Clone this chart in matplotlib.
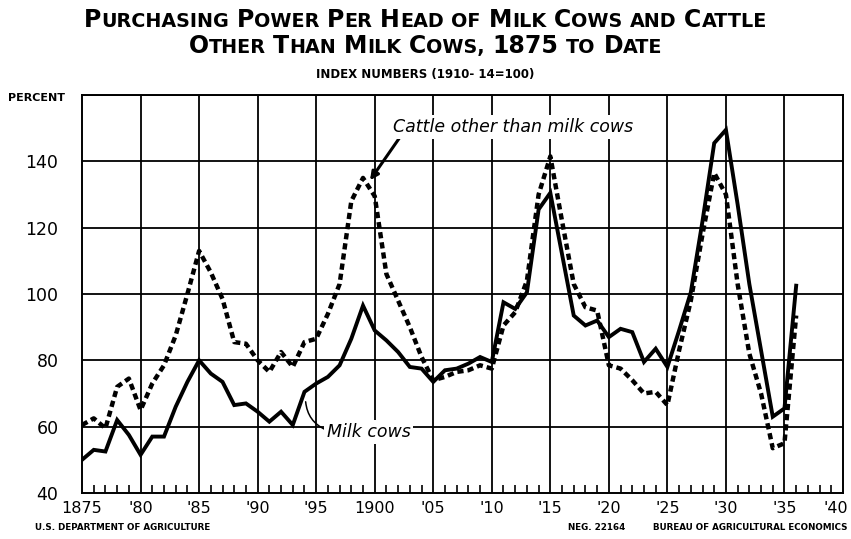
import numpy as np
import matplotlib
matplotlib.use("Agg")
import matplotlib.pyplot as plt
import matplotlib.transforms as mtransforms

# ------------------------------------------------------------
# datos (índices 1910-14 = 100)
# ------------------------------------------------------------
anios = list(range(1875, 1937))

vacas_lecheras = [
    50, 53, 52.5, 62, 57.5, 51.5, 57, 57, 66, 73.5,          # 1875-84
    80, 76, 73.5, 66.5, 67, 64.5, 61.5, 64.5, 60.5, 70.5,    # 1885-94
    73, 75, 78.5, 86.5, 96.5, 89, 86, 82.5, 78, 77.5,        # 1895-1904
    73.5, 77, 77.5, 79, 81, 79.5, 97.5, 95.5, 100.5, 125.5,  # 1905-14
    130.5, 112, 93.5, 90.5, 92, 87, 89.5, 88.5, 79.5, 83.5,  # 1915-24
    78, 89, 100.5, 122, 145.5, 149.5, 127, 103, 83, 63,      # 1925-34
    65.5, 102.5,                                             # 1935-36
]

otro_ganado = [
    60.5, 62.5, 59.5, 72, 74.5, 65, 73, 78.5, 87.5, 100,     # 1875-84
    113, 106.5, 98.5, 85.5, 85, 80, 76.5, 82.5, 78, 85.5,    # 1885-94
    86.5, 94, 103, 128, 135, 129.5, 106, 98, 90, 81,         # 1895-1904
    74, 75, 76.5, 77, 78.5, 77.5, 90.5, 94.5, 104, 130,      # 1905-14
    141.5, 122, 103, 96, 95, 78.5, 77.5, 74, 70, 70.5,       # 1915-24
    66.5, 83, 98, 118, 136.5, 130, 103, 82, 70, 53.5,        # 1925-34
    55, 93.5,                                                # 1935-36
]

ticks_x = list(range(1875, 1941, 5))
etiquetas_x = ["1875", "'80", "'85", "'90", "'95", "1900", "'05", "'10",
               "'15", "'20", "'25", "'30", "'35", "'40"]
ticks_y = [40, 60, 80, 100, 120, 140]

TITULO_1 = "PURCHASING POWER PER HEAD OF MILK COWS AND CATTLE"
TITULO_2 = "OTHER THAN MILK COWS, 1875 TO DATE"
SUBTITULO = "INDEX NUMBERS (1910- 14=100)"
PALABRAS_CHICAS = {"OF", "AND", "TO"}


# ------------------------------------------------------------
# título en versalitas (primera letra grande, resto chica)
# ------------------------------------------------------------
def segmentos_versalitas(frase):
    segs = []
    for i, palabra in enumerate(frase.split(" ")):
        if i > 0:
            segs.append((" ", "chico"))
        if palabra in PALABRAS_CHICAS:
            segs.append((palabra, "chico"))
        elif palabra[0].isdigit():
            segs.append((palabra, "grande"))
        else:
            segs.append((palabra[0], "grande"))
            if len(palabra) > 1:
                segs.append((palabra[1:], "chico"))
    return segs


def texto_versalitas(fig, y, frase, grande, chico, centro=0.5):
    renderer = fig.canvas.get_renderer()
    tam = {"grande": grande, "chico": chico}
    hueco = chico * 100 / 72 * 0.4
    objs = []
    total = 0
    for txt, clase in segmentos_versalitas(frase):
        if txt == " ":
            objs.append((None, hueco))
            total += hueco
            continue
        t = fig.text(0, y, txt, fontsize=tam[clase], fontweight="bold",
                     ha="left", va="baseline")
        w = t.get_window_extent(renderer).width
        objs.append((t, w))
        total += w
    ancho_fig = fig.bbox.width
    x = centro * ancho_fig - total / 2
    for t, w in objs:
        if t is not None:
            t.set_x(x / ancho_fig)
        x += w


# ------------------------------------------------------------
# figura
# ------------------------------------------------------------
plt.rcParams["font.family"] = ["DejaVu Sans"]
fig = plt.figure(figsize=(8.51, 5.39), dpi=100)
ax = fig.add_axes([0.0964, 0.0854, 0.8942, 0.7383])

ax.set_xlim(1875, 1940)
ax.set_ylim(40, 160)

# rejilla
for x in ticks_x[1:-1]:
    ax.axvline(x, color="black", lw=1.3, zorder=1)
for y in ticks_y[1:] + [160]:
    ax.axhline(y, color="black", lw=1.3, zorder=1)

ax.plot(anios, otro_ganado, color="black", lw=3.2,
        linestyle=(0, (1.4, 0.9)), solid_capstyle="butt",
        dash_capstyle="butt", zorder=3)
ax.plot(anios, vacas_lecheras, color="black", lw=2.8,
        solid_joinstyle="miter", zorder=4)

for lado in ["left", "right", "top", "bottom"]:
    ax.spines[lado].set_linewidth(1.4)

ax.set_xticks(ticks_x)
ax.set_xticklabels(etiquetas_x, fontsize=11.5)
ax.set_xticks(range(1875, 1941), minor=True)
ax.tick_params(axis="x", which="major", length=0, pad=6)
ax.tick_params(axis="x", which="minor", direction="in", length=6, width=1.2)

# la última etiqueta ('40) se corre a la izquierda para que no se corte
ultima = ax.get_xticklabels()[-1]
ultima.set_transform(ultima.get_transform() +
                     mtransforms.ScaledTranslation(-7 / 100, 0, fig.dpi_scale_trans))

ax.set_yticks(ticks_y)
ax.set_yticklabels([str(v) for v in ticks_y], fontsize=12.5)
ax.tick_params(axis="y", length=0, pad=17)

fig.text(0.009, 0.818, "PERCENT", fontsize=8, fontweight="bold",
         ha="left", va="center")

# anotaciones (con fondo blanco: la rejilla se corta detrás del texto)
fondo = dict(facecolor="white", edgecolor="none", pad=2)
ax.annotate("Cattle other than milk cows", xy=(1899.6, 134.3),
            xytext=(1901.6, 150.3), fontsize=12.5, style="italic",
            ha="left", va="center", bbox=fondo, zorder=5,
            arrowprops=dict(arrowstyle="-|>", color="black", lw=2.2,
                            mutation_scale=12, shrinkA=0, shrinkB=0,
                            patchA=None, relpos=(0.03, 0.0)))
ax.annotate("Milk cows", xy=(1894.1, 67.5), xytext=(1895.9, 58.4),
            fontsize=12.5, style="italic", ha="left", va="center",
            bbox=fondo, zorder=5,
            arrowprops=dict(arrowstyle="-", color="black", lw=1.1,
                            connectionstyle="arc3,rad=-0.3",
                            shrinkA=1, shrinkB=0, patchA=None,
                            relpos=(0.0, 0.6)))

# títulos
texto_versalitas(fig, 0.950, TITULO_1, grande=17, chico=13.8)
texto_versalitas(fig, 0.901, TITULO_2, grande=17, chico=13.8)
fig.text(0.5, 0.862, SUBTITULO, fontsize=8.5, fontweight="bold",
         ha="center", va="center")

# pie
fig.text(0.041, 0.021, "U.S. DEPARTMENT OF AGRICULTURE", fontsize=6.3,
         fontweight="bold", ha="left", va="center")
fig.text(0.667, 0.021, "NEG. 22164", fontsize=6.3,
         fontweight="bold", ha="left", va="center")
fig.text(0.996, 0.021, "BUREAU OF AGRICULTURAL ECONOMICS", fontsize=6.3,
         fontweight="bold", ha="right", va="center")

fig.savefig("out.png", dpi=100)
